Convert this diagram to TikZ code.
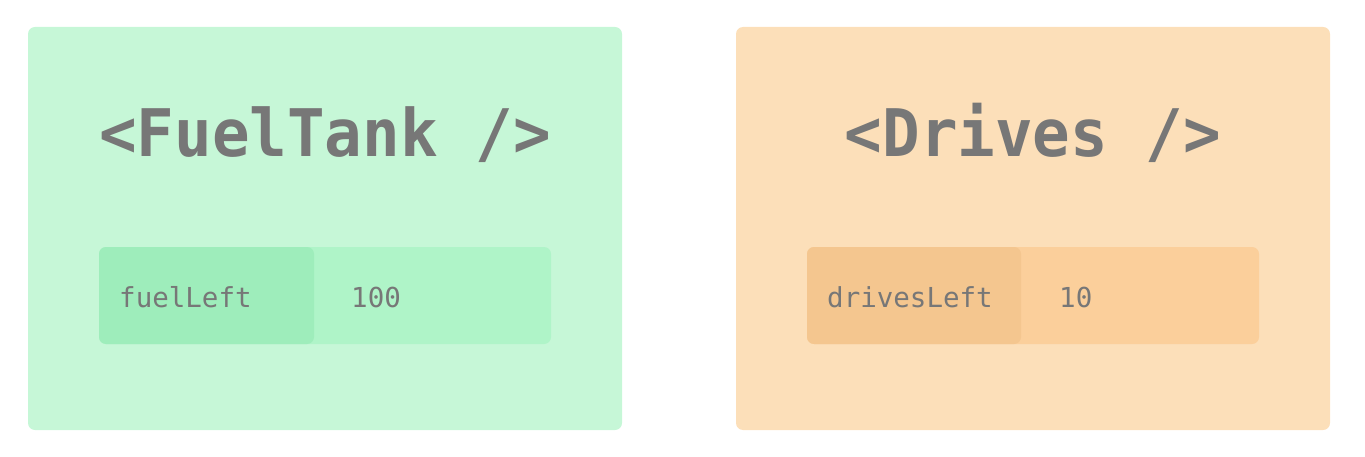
\documentclass[tikz,border=0pt]{standalone}
\usepackage{fontspec}
\setmonofont{DejaVu Sans Mono}
\definecolor{gpanel}{HTML}{C6F7D7}
\definecolor{gbar}{HTML}{AFF4C8}
\definecolor{gkey}{HTML}{9EEDBB}
\definecolor{opanel}{HTML}{FCDFB9}
\definecolor{obar}{HTML}{FBCF9B}
\definecolor{okey}{HTML}{F4C68F}
\definecolor{txt}{HTML}{777777}
\tikzset{
  box/.style={inner sep=0pt, outer sep=0pt, anchor=north west, rounded corners=7pt},
  title/.style={anchor=base, text=txt, font=\fontsize{62.5}{62.5}\selectfont\ttfamily\bfseries, inner sep=0pt, yscale=1.05, transform shape},
  lbl/.style={anchor=base west, text=txt, font=\fontsize{27.5}{27.5}\selectfont\ttfamily, inner sep=0pt},
}
\begin{document}
\begin{tikzpicture}[x=1pt,y=-1pt]
\useasboundingbox (0,0) rectangle (1365,457);
% left panel
\node[box, fill=gpanel, minimum width=594pt, minimum height=403pt] (p1) at (28,27) {};
\node[box, fill=gbar, minimum width=452pt, minimum height=97pt] (b1) at (99,247) {};
\node[box, fill=gkey, minimum width=215pt, minimum height=97pt] (k1) at (99,247) {};
\node[title] (t1) at (325,157) {<FuelTank />};
\node[lbl] (l1) at (119,307) {fuelLeft};
\node[lbl] (v1) at (351,307) {100};
% right panel
\node[box, fill=opanel, minimum width=594pt, minimum height=403pt] (p2) at (736,27) {};
\node[box, fill=obar, minimum width=452pt, minimum height=97pt] (b2) at (807,247) {};
\node[box, fill=okey, minimum width=214pt, minimum height=97pt] (k2) at (807,247) {};
\node[title] (t2) at (1033,157) {<Drives />};
\node[lbl] (l2) at (827,307) {drivesLeft};
\node[lbl] (v2) at (1059,307) {10};
\end{tikzpicture}
\end{document}
